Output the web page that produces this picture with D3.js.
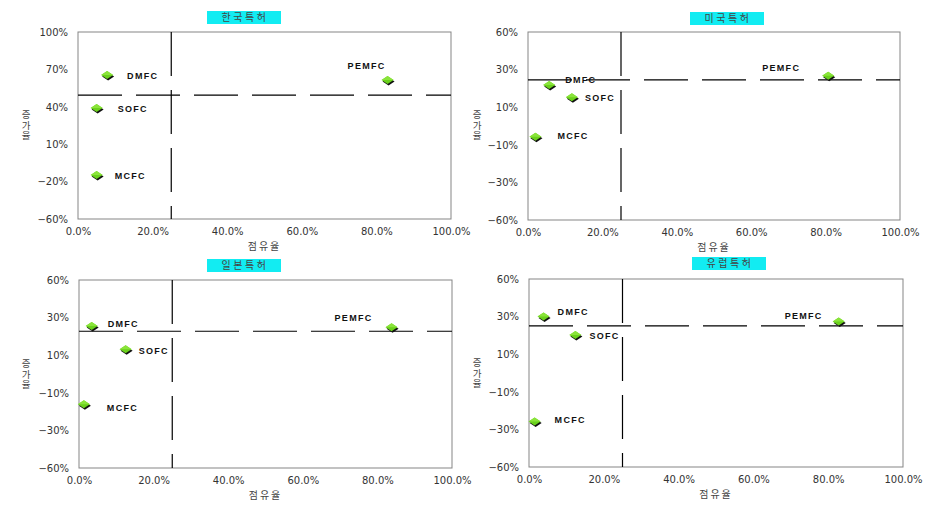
<!DOCTYPE html>
<html><head><meta charset="utf-8">
<script src="https://cdn.jsdelivr.net/npm/d3@7"></script>
<style>
body{margin:0;background:#fff;}
svg{display:block;}
</style></head>
<body>
<svg id="c" width="946" height="521"></svg>
<script>
// ---- data ----
const panelTitles = ["한국특허", "미국특허", "일본특허", "유럽특허"];
const techNames = ["DMFC", "SOFC", "MCFC", "PEMFC"];
// 점유율 (share) per panel, in techNames order
const shareKR = [0.078, 0.050, 0.050, 0.830];
const shareUS = [0.057, 0.118, 0.020, 0.807];
const shareJP = [0.034, 0.125, 0.013, 0.838];
const shareEU = [0.039, 0.124, 0.015, 0.828];
// 증가율 (growth) per panel
const growthKR = [0.632, 0.350, -0.224, 0.589];
const growthUS = [0.262, 0.183, -0.068, 0.321];
const growthJP = [0.306, 0.158, -0.193, 0.298];
const growthEU = [0.361, 0.242, -0.310, 0.329];
// reference (average) lines
const refShare = [0.25, 0.25, 0.25, 0.25];
const refGrowth = [0.46, 0.294, 0.273, 0.301];
// axes
const yDomainKR = [-0.6, 1.0];
const yDomainOther = [-0.6, 0.6];
const yTickLabelsKR = ["−60%", "−20%", "10%", "40%", "70%", "100%"];
const yTickLabelsOther = ["−60%", "−30%", "−10%", "10%", "30%", "60%"];
const xTickValues = [0, 0.2, 0.4, 0.6, 0.8, 1.0];
const xTickLabels = ["0.0%", "20.0%", "40.0%", "60.0%", "80.0%", "100.0%"];
const xTitle = "점유율";
const yTitle = "증가율";

// ---- layout ----
const panels = [
  {x0:78, x1:451, y0:32, y1:219, titleCx:244, titleY:11, share:shareKR, growth:growthKR, yDom:yDomainKR, yLab:yTickLabelsKR, ytx:26, yty:110,
   lab:[[20,2,"start"],[21,2,"start"],[18,2,"start"],[-2,-13,"end"]]},
  {x0:528, x1:900, y0:32, y1:220, titleCx:727, titleY:12, share:shareUS, growth:growthUS, yDom:yDomainOther, yLab:yTickLabelsOther, ytx:477, yty:110,
   lab:[[16,-4,"start"],[13,1,"start"],[22,0,"start"],[-28,-7,"end"]]},
  {x0:79, x1:452, y0:280, y1:468, titleCx:244, titleY:259, share:shareJP, growth:growthJP, yDom:yDomainOther, yLab:yTickLabelsOther, ytx:26, yty:359,
   lab:[[16,-1,"start"],[13,2,"start"],[23,4,"start"],[-19,-9,"end"]]},
  {x0:529, x1:903, y0:279, y1:467, titleCx:729, titleY:257, share:shareEU, growth:growthEU, yDom:yDomainOther, yLab:yTickLabelsOther, ytx:477, yty:358,
   lab:[[14,-4,"start"],[14,2,"start"],[20,-1,"start"],[-16,-5,"end"]]}
];

const svg = d3.select("#c");
const FONT = "'DejaVu Sans', sans-serif";
const KFONT = "'Noto Sans CJK KR', sans-serif";

panels.forEach((p, pi) => {
  const g = svg.append("g");
  const x = d3.scaleLinear().domain([0, 1]).range([p.x0, p.x1]);
  const y = d3.scaleLinear().domain(p.yDom).range([p.y1, p.y0]);
  const yTicks = d3.range(6).map(i => p.yDom[0] + i * (p.yDom[1] - p.yDom[0]) / 5);

  // title box
  const tw = 74, th = 13;
  g.append("rect").attr("x", p.titleCx - tw/2).attr("y", p.titleY).attr("width", tw).attr("height", th)
    .attr("fill", "#12ecf2");
  g.append("text").attr("x", p.titleCx + 1).attr("y", p.titleY + th/2 + 0.5)
    .attr("text-anchor", "middle").attr("dominant-baseline", "middle")
    .attr("font-family", KFONT).attr("font-size", 10)
    .attr("letter-spacing", 2.5).attr("fill", "#444").text(panelTitles[pi]);

  // plot frame
  g.append("rect").attr("x", p.x0).attr("y", p.y0).attr("width", p.x1 - p.x0).attr("height", p.y1 - p.y0)
    .attr("fill", "none").attr("stroke", "#858585").attr("stroke-width", 1);

  // axes (labels only)
  const xAxis = d3.axisBottom(x).tickValues(xTickValues).tickSize(0).tickPadding(9)
    .tickFormat((d, i) => xTickLabels[i]);
  const xa = g.append("g").attr("transform", `translate(0,${p.y1})`).call(xAxis);
  xa.select(".domain").remove();
  xa.selectAll("text").attr("font-family", FONT).attr("font-size", 10).attr("fill", "#333");

  const yAxis = d3.axisLeft(y).tickValues(yTicks).tickSize(0).tickPadding(10)
    .tickFormat((d, i) => p.yLab[i]);
  const ya = g.append("g").attr("transform", `translate(${p.x0},0)`).call(yAxis);
  ya.select(".domain").remove();
  ya.selectAll("text").attr("font-family", FONT).attr("font-size", 10).attr("fill", "#333");

  // axis titles
  g.append("text").attr("x", (p.x0 + p.x1)/2).attr("y", p.y1 + 28)
    .attr("text-anchor", "middle").attr("dominant-baseline", "middle")
    .attr("font-family", KFONT).attr("font-size", 10)
    .attr("letter-spacing", 2).attr("fill", "#444").text(xTitle);
  g.append("text").attr("x", p.ytx).attr("y", p.yty)
    .attr("text-anchor", "start")
    .style("writing-mode", "vertical-rl").style("text-orientation", "upright")
    .attr("font-family", KFONT).attr("font-size", 9.5).attr("letter-spacing", 1)
    .attr("fill", "#444").text(yTitle);

  // reference dashed lines
  g.append("line").attr("x1", p.x0).attr("x2", p.x1).attr("y1", y(refGrowth[pi])).attr("y2", y(refGrowth[pi]))
    .attr("stroke", "#000").attr("stroke-width", 1.2).attr("stroke-dasharray", "44,14");
  g.append("line").attr("x1", x(refShare[pi])).attr("x2", x(refShare[pi])).attr("y1", p.y0).attr("y2", p.y1)
    .attr("stroke", "#000").attr("stroke-width", 1.2).attr("stroke-dasharray", "44,14");

  // points
  const pts = techNames.map((n, i) => ({name: n, sx: p.share[i], gy: p.growth[i], lab: p.lab[i]}));
  const mk = g.selectAll(".pt").data(pts).enter().append("g")
    .attr("transform", d => `translate(${x(d.sx)},${y(d.gy)})`);
  mk.append("path").attr("d", "M-5,1.5 L1,-2.5 L7,1.5 L1,5.5 Z").attr("fill", "#111");
  mk.append("path").attr("d", "M-6,0 L0,-4 L6,0 L0,4 Z").attr("fill", "#6ad11c");
  mk.append("path").attr("d", "M-6,0 L0,-4 L6,0 Z").attr("fill", "#8ae43a");

  g.selectAll(".lbl").data(pts).enter().append("text")
    .attr("x", d => x(d.sx) + d.lab[0]).attr("y", d => y(d.gy) + d.lab[1])
    .attr("text-anchor", d => d.lab[2]).attr("dominant-baseline", "middle")
    .attr("font-family", "'Liberation Sans', Arial, sans-serif").attr("font-weight", "bold")
    .attr("font-size", 9).attr("letter-spacing", 1.3).attr("fill", "#111").text(d => d.name);
});
</script>
</body></html>
